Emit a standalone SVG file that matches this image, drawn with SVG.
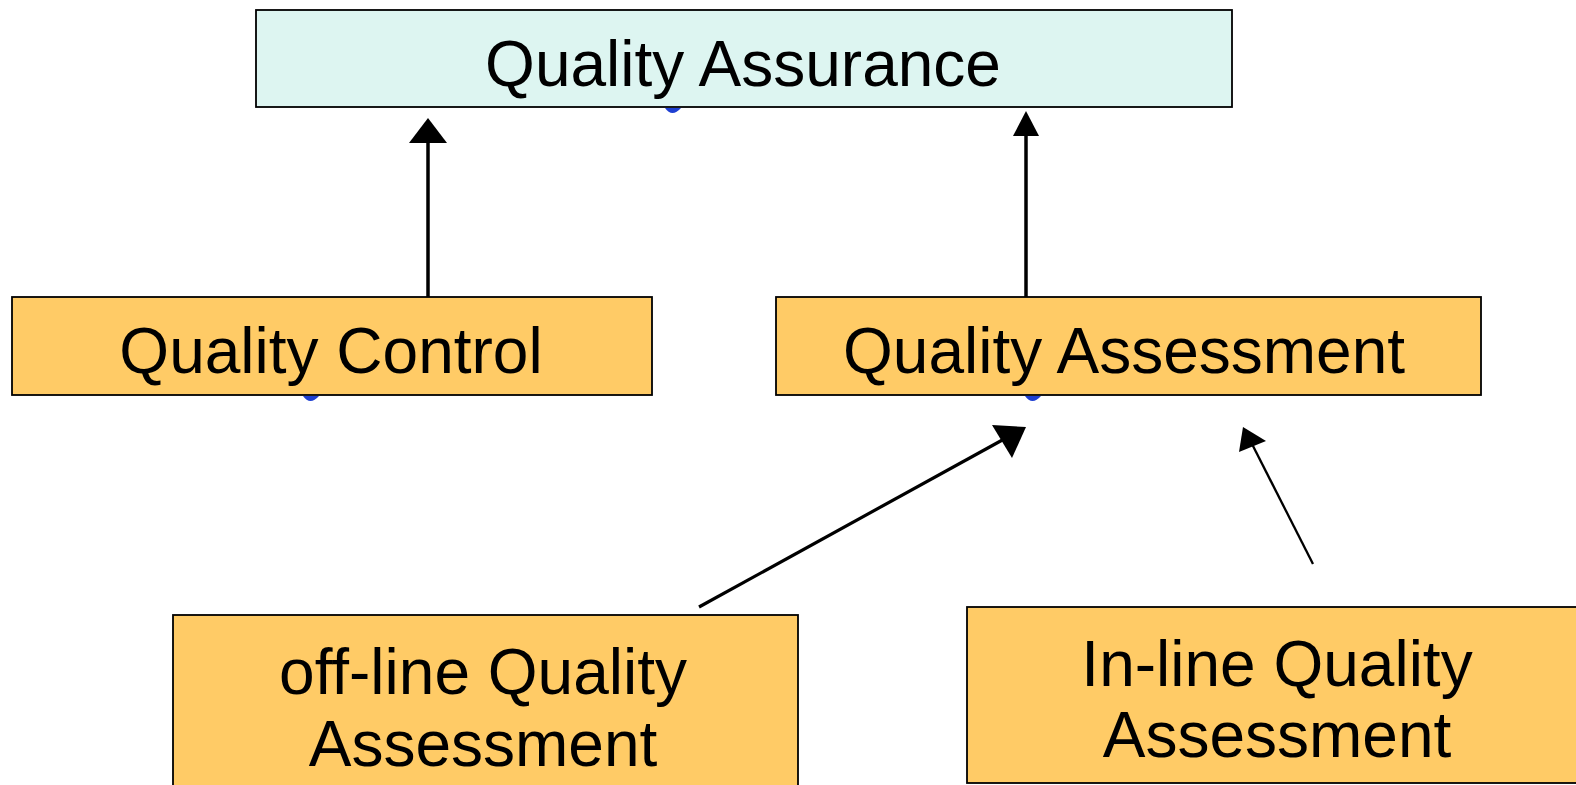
<svg xmlns="http://www.w3.org/2000/svg" width="1576" height="785" viewBox="0 0 1576 785">
<style>
.box{stroke:#000;stroke-width:1.8}
.qa{fill:#DDF5F1}
.or{fill:#FFCB66}
.t{font-family:"Liberation Sans",Arial,sans-serif;font-size:64px;fill:#000;text-anchor:middle}
.c{stroke:#000;fill:none}
.blob{fill:#1E3FD2}
</style>
<rect width="1576" height="785" fill="#fff"/>
<g id="blue-marks">
<path class="blob" d="M665,108 Q672,118 681,108 Z"/>
<path class="blob" d="M303,396 Q310,406 319,396 Z"/>
<path class="blob" d="M1025,396 Q1032,406 1041,396 Z"/>
</g>
<g id="connectors">
<line class="c" x1="428" y1="297" x2="428" y2="140" stroke-width="3.5"/>
<polygon points="428,118 409,143 447,143" fill="#000"/>
<line class="c" x1="1026" y1="297" x2="1026" y2="133" stroke-width="3.5"/>
<polygon points="1026,111 1013,136 1039,136" fill="#000"/>
<line class="c" x1="699" y1="607" x2="1006" y2="438" stroke-width="3.2"/>
<polygon points="1026,427 992,425 1012,458" fill="#000"/>
<line class="c" x1="1313" y1="564" x2="1252" y2="444" stroke-width="2.3"/>
<polygon points="1243,427 1239,452 1266,441" fill="#000"/>
</g>
<g id="quality-assurance">
<rect class="box qa" x="256" y="10" width="976" height="97"/>
<text class="t" x="743" y="86">Quality Assurance</text>
</g>
<g id="quality-control">
<rect class="box or" x="12" y="297" width="640" height="98"/>
<text class="t" x="331" y="373">Quality Control</text>
</g>
<g id="quality-assessment">
<rect class="box or" x="776" y="297" width="705" height="98"/>
<text class="t" x="1124" y="373">Quality Assessment</text>
</g>
<g id="offline-qa">
<rect class="box or" x="173" y="615" width="625" height="180"/>
<text class="t" x="483" y="694">off-line Quality</text>
<text class="t" x="483" y="766">Assessment</text>
</g>
<g id="inline-qa">
<rect class="box or" x="967" y="607" width="630" height="176"/>
<text class="t" x="1277" y="686">In-line Quality</text>
<text class="t" x="1277" y="757">Assessment</text>
</g>
</svg>
